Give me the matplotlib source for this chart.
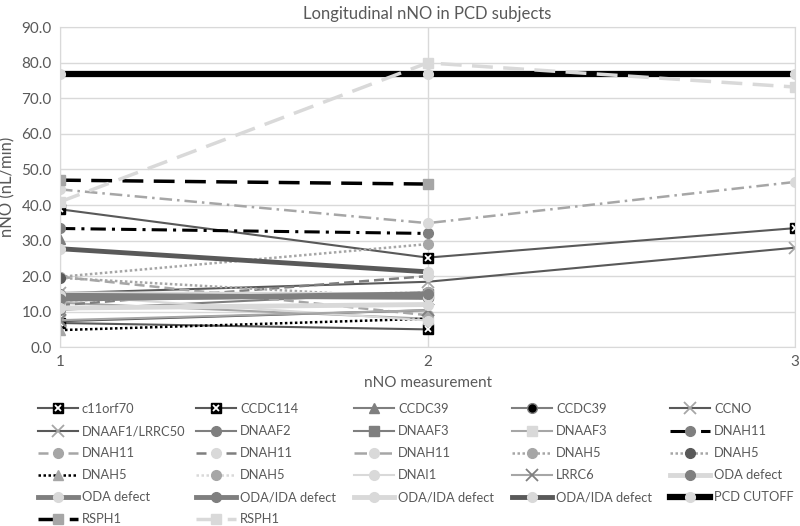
import numpy as np
import matplotlib.pyplot as plt
from matplotlib.legend_handler import HandlerTuple

plt.rcParams['font.family'] = ['Lato', 'DejaVu Sans']

nan = np.nan
measurements = [1, 2, 3]

names = [
    "c11orf70", "CCDC114", "CCDC39", "CCDC39", "CCNO",
    "DNAAF1/LRRC50", "DNAAF2", "DNAAF3", "DNAAF3", "DNAH11",
    "DNAH11", "DNAH11", "DNAH11", "DNAH5", "DNAH5",
    "DNAH5", "DNAH5", "DNAI1", "LRRC6", "ODA defect",
    "ODA defect", "ODA/IDA defect", "ODA/IDA defect", "ODA/IDA defect", "PCD CUTOFF",
    "RSPH1", "RSPH1",
]

# nNO values (nL/min) per subject, measurement 1..3
values = [
    [38.8, 25.2, 33.5],
    [6.8, 5.0, nan],
    [30.5, nan, nan],
    [13.5, 14.0, nan],
    [7.3, 10.4, nan],
    [15.2, 18.4, 28.0],
    [10.5, 15.5, nan],
    [14.0, 15.0, nan],
    [12.5, 8.0, nan],
    [33.4, 32.0, nan],
    [19.8, 9.0, nan],
    [11.8, 20.0, nan],
    [44.4, 34.9, 46.5],
    [19.8, 29.0, nan],
    [19.5, 13.7, nan],
    [4.8, 8.0, nan],
    [13.0, 15.5, nan],
    [14.6, 7.5, nan],
    [7.6, 10.4, nan],
    [15.0, 14.8, nan],
    [14.6, 14.0, nan],
    [13.5, 15.0, nan],
    [11.0, 12.0, nan],
    [27.7, 21.2, nan],
    [77.0, 77.0, 77.0],
    [47.0, 45.9, nan],
    [40.9, 80.0, 73.2],
]

BLACK = "#000000"
DARK = "#595959"
GRAY = "#7f7f7f"
MID = "#a6a6a6"
LIGHT = "#d9d9d9"

SOLID = "-"
DASH = (0, (4, 2))
LDASH = (0, (6, 3))
DOT = (0, (1, 1))
DASHDOT = (0, (5, 2, 1, 2))

# line color, line width, dash, marker, marker face, marker edge
estilos = [
    (DARK, 1.5, SOLID, "xsq", BLACK, BLACK),
    (DARK, 1.5, SOLID, "xsq", BLACK, BLACK),
    (GRAY, 1.5, SOLID, "^", GRAY, GRAY),
    (GRAY, 1.5, SOLID, "o", BLACK, GRAY),
    (DARK, 1.5, SOLID, "x", LIGHT, MID),
    (DARK, 1.5, SOLID, "x", LIGHT, MID),
    (GRAY, 1.5, SOLID, "o", GRAY, GRAY),
    (GRAY, 1.5, SOLID, "s", GRAY, GRAY),
    (MID, 1.5, SOLID, "s", LIGHT, LIGHT),
    (BLACK, 2.2, DASHDOT, "o", GRAY, GRAY),
    (MID, 1.8, DASH, "o", MID, MID),
    (GRAY, 1.8, DASH, "o", LIGHT, LIGHT),
    (MID, 1.8, DASHDOT, "o", LIGHT, LIGHT),
    (MID, 1.8, DOT, "o", MID, MID),
    (MID, 1.8, DOT, "o", DARK, DARK),
    (BLACK, 1.8, DOT, "^", MID, MID),
    (LIGHT, 1.8, DOT, "o", MID, MID),
    (LIGHT, 1.5, SOLID, "o", LIGHT, LIGHT),
    (MID, 1.5, SOLID, "x", GRAY, GRAY),
    (LIGHT, 3.5, SOLID, "o", GRAY, GRAY),
    (GRAY, 3.5, SOLID, "o", LIGHT, LIGHT),
    (GRAY, 3.5, SOLID, "o", GRAY, GRAY),
    (LIGHT, 3.5, SOLID, "o", LIGHT, LIGHT),
    (DARK, 3.5, SOLID, "o", LIGHT, LIGHT),
    (BLACK, 4.5, SOLID, "o", LIGHT, LIGHT),
    (BLACK, 2.5, LDASH, "s", MID, MID),
    (LIGHT, 2.5, LDASH, "s", LIGHT, LIGHT),
]

fig = plt.figure(figsize=(8, 5.26), dpi=100)
ax = fig.add_axes([0.075, 0.34, 0.919, 0.608])

handles = []
for nome, vals, (cor, lw, ls, mk, fc, ec) in zip(names, values, estilos):
    if mk == "xsq":
        l1, = ax.plot(measurements, vals, color=cor, lw=lw, linestyle=ls,
                      marker="s", ms=7, mfc=BLACK, mec=BLACK, label=nome)
        l2, = ax.plot(measurements, vals, linestyle="none", marker="x",
                      ms=5, mew=1.3, mec="white")
        handles.append((l1, l2))
    else:
        mew = 1.3 if mk == "x" else 1.0
        ms = 8 if mk == "x" else 7
        l1, = ax.plot(measurements, vals, color=cor, lw=lw, linestyle=ls,
                      marker=mk, ms=ms, mfc=fc, mec=ec, mew=mew, label=nome)
        handles.append(l1)

ax.set_xlim(1, 3)
ax.set_ylim(0, 90)
ax.set_xticks([1, 2, 3])
ax.set_yticks(np.arange(0, 91, 10))
ax.set_yticklabels([f"{v:.1f}" for v in np.arange(0, 91, 10)])
ax.grid(True, color="#d9d9d9", lw=1)
ax.set_axisbelow(True)
for s in ax.spines.values():
    s.set_color("#d9d9d9")
ax.tick_params(length=0, colors="#595959", labelsize=11, pad=6)

ax.set_title("Longitudinal nNO in PCD subjects", color="#595959", fontsize=12, pad=6)
ax.set_ylabel("nNO (nL/min)", color="#595959", fontsize=12, labelpad=4)
ax.set_xlabel("nNO measurement", color="#595959", fontsize=11, labelpad=5)

# legend: 5 fixed columns, filled row by row like the original
ncol = 5
for c in range(ncol):
    idx = list(range(c, len(names), ncol))
    leg = fig.legend([handles[i] for i in idx], [names[i] for i in idx],
                     loc="upper left", bbox_to_anchor=((38 + 158 * c) / 800, 1 - 403 / 526),
                     frameon=False, fontsize=9.3, handlelength=3.1,
                     handletextpad=0.3, labelspacing=0.78, borderpad=0,
                     borderaxespad=0, handler_map={tuple: HandlerTuple(ndivide=1)})
    for t in leg.get_texts():
        t.set_color("#595959")

fig.savefig("out.png", dpi=100)
